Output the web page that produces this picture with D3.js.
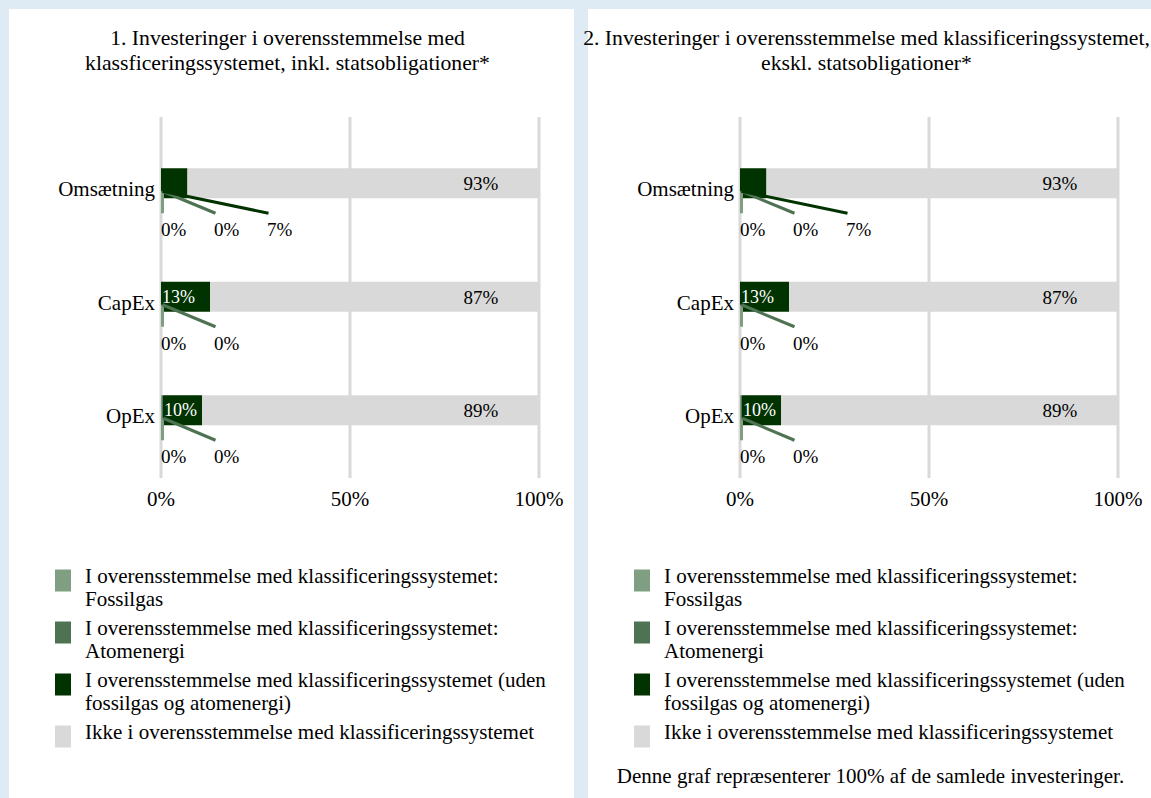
<!DOCTYPE html>
<html>
  <head>
    <meta charset="utf-8">
    <title>Investeringer i overensstemmelse med klassificeringssystemet</title>
    <script src="https://d3js.org/d3.v7.min.js"></script>
    <style>
      html, body { margin: 0; padding: 0; background: #deebf5; overflow: hidden; }
      svg { display: block; }
      text { font-family: "Liberation Serif", "Times New Roman", serif; fill: #000; }
    </style>
  </head>
  <body>
    <div id="chart"></div>
    <script>
      // chart data
      const categories = ["Omsætning", "CapEx", "OpEx"];
      const fossilgas = [0, 0, 0.2];
      const atomenergi = [0, 0, 0.3];
      const alignedOther = [7, 13, 10.4];
      const notAligned = [93, 87, 89.1];
      const xTicks = [0, 50, 100];
      const seriesKeys = ["fossil", "atom", "other", "not"];
      const seriesNames = [
        "I overensstemmelse med klassificeringssystemet: Fossilgas",
        "I overensstemmelse med klassificeringssystemet: Atomenergi",
        "I overensstemmelse med klassificeringssystemet (uden fossilgas og atomenergi)",
        "Ikke i overensstemmelse med klassificeringssystemet"
      ];
      const seriesColors = ["#809f82", "#4e7352", "#003300", "#d9d9d9"];
      const panelTitles = [
        ["1. Investeringer i overensstemmelse med", "klassficeringssystemet, inkl. statsobligationer*"],
        ["2. Investeringer i overensstemmelse med klassificeringssystemet,", "ekskl. statsobligationer*"]
      ];
      const footnote = "Denne graf repræsenterer 100% af de samlede investeringer.";

      const rows = categories.map((c, i) => ({
        category: c,
        fossil: fossilgas[i],
        atom: atomenergi[i],
        other: alignedOther[i],
        not: notAligned[i]
      }));
      const stacked = d3.stack().keys(seriesKeys)(rows);

      const width = 1151, height = 798;
      const panelW = 565, panelStep = 579;

      const svg = d3.select("#chart")
        .append("svg")
        .attr("width", width)
        .attr("height", height);

      // local panel coordinates
      const x = d3.scaleLinear().domain([0, 100]).range([152, 530]);
      const y = d3.scaleBand().domain(categories).range([117.5, 458]);
      const barH = 30;
      const mid = c => y(c) + y.bandwidth() / 2;
      const slotStep = 53;
      const fmt = v => Math.round(v) + "%";

      function wrap(textSel, maxWidth, lineH) {
        textSel.each(function() {
          const t = d3.select(this);
          const words = t.text().split(/\s+/);
          const x0 = t.attr("x");
          t.text(null);
          let line = [];
          let tspan = t.append("tspan").attr("x", x0).attr("dy", 0);
          words.forEach(w => {
            line.push(w);
            tspan.text(line.join(" "));
            if (tspan.node().getComputedTextLength() > maxWidth && line.length > 1) {
              line.pop();
              tspan.text(line.join(" "));
              line = [w];
              tspan = t.append("tspan").attr("x", x0).attr("dy", lineH).text(w);
            }
          });
        });
      }

      panelTitles.forEach((title, p) => {
        const g = svg.append("g")
          .attr("transform", `translate(${9 + p * panelStep},9)`);

        g.append("rect")
          .attr("width", panelW)
          .attr("height", height)
          .attr("fill", "#fff");

        // title
        g.append("g").selectAll("text")
          .data(title)
          .join("text")
          .attr("x", panelW / 2 - 4)
          .attr("y", (d, i) => 36 + i * 25)
          .attr("text-anchor", "middle")
          .style("font-size", "21.7px")
          .text(d => d);

        // gridlines
        g.append("g").selectAll("line")
          .data(xTicks)
          .join("line")
          .attr("x1", d => x(d))
          .attr("x2", d => x(d))
          .attr("y1", 108)
          .attr("y2", 469)
          .attr("stroke", "#d9d9d9")
          .attr("stroke-width", 3);

        // tick labels
        g.append("g").selectAll("text")
          .data(xTicks)
          .join("text")
          .attr("x", d => x(d))
          .attr("y", 497)
          .attr("text-anchor", "middle")
          .style("font-size", "21px")
          .text(d => d + "%");

        // category labels
        g.append("g").selectAll("text")
          .data(categories)
          .join("text")
          .attr("x", x(0) - 6)
          .attr("y", d => mid(d) + 13)
          .attr("text-anchor", "end")
          .style("font-size", "21px")
          .text(d => d);

        // bars
        const series = g.append("g").selectAll("g")
          .data(stacked)
          .join("g")
          .attr("fill", (d, i) => seriesColors[i]);
        series.selectAll("rect")
          .data(d => d)
          .join("rect")
          .attr("x", d => x(d[0]))
          .attr("y", d => mid(d.data.category) - barH / 2)
          .attr("width", d => x(d[1]) - x(d[0]))
          .attr("height", barH);

        // data labels: displaced ones get a leader line
        const labels = [];
        stacked.forEach((s, si) => {
          s.forEach(d => {
            const v = d[1] - d[0];
            const w = x(d[1]) - x(d[0]);
            const c = mid(d.data.category);
            if (s.key === "not") {
              labels.push({ kind: "in", x: x(d[1]) - 58, y: c + 7, text: fmt(v), color: "#000", anchor: "middle", size: 19 });
            } else if (w >= 36) {
              labels.push({ kind: "in", x: x(d[0]) + 1, y: c + 6, text: fmt(v), color: "#fff", anchor: "start", size: 18 });
            } else {
              labels.push({ kind: "out", x: x(0) + si * slotStep, y: c + 53, text: fmt(v), color: "#000", anchor: "start", size: 19,
                lx1: x(d[0]) + 1.5, ly1: c + 8, lx2: x(0) + si * slotStep + 1.5, ly2: c + 30, stroke: seriesColors[si] });
            }
          });
        });

        g.append("g").selectAll("line")
          .data(labels.filter(d => d.kind === "out"))
          .join("line")
          .attr("x1", d => d.lx1)
          .attr("y1", d => d.ly1)
          .attr("x2", d => d.lx2)
          .attr("y2", d => d.ly2)
          .attr("stroke", d => d.stroke)
          .attr("stroke-width", 3);

        g.append("g").selectAll("text")
          .data(labels)
          .join("text")
          .attr("x", d => d.x)
          .attr("y", d => d.y)
          .attr("text-anchor", d => d.anchor)
          .style("font-size", d => d.size + "px")
          .style("fill", d => d.color)
          .text(d => d.text);

        // legend
        const legend = g.append("g").selectAll("g")
          .data(seriesNames)
          .join("g")
          .attr("transform", (d, i) => `translate(46,${573.5 + i * 52})`);
        legend.append("rect")
          .attr("y", -13)
          .attr("width", 16)
          .attr("height", 22)
          .attr("fill", (d, i) => seriesColors[i]);
        legend.append("text")
          .attr("x", 30)
          .attr("y", 0)
          .style("font-size", "21px")
          .text(d => d)
          .call(wrap, 470, 23.5);

        if (p === 1) {
          g.append("text")
            .attr("x", panelW / 2)
            .attr("y", 774)
            .attr("text-anchor", "middle")
            .style("font-size", "21px")
            .text(footnote);
        }
      });
    </script>
  </body>
</html>
